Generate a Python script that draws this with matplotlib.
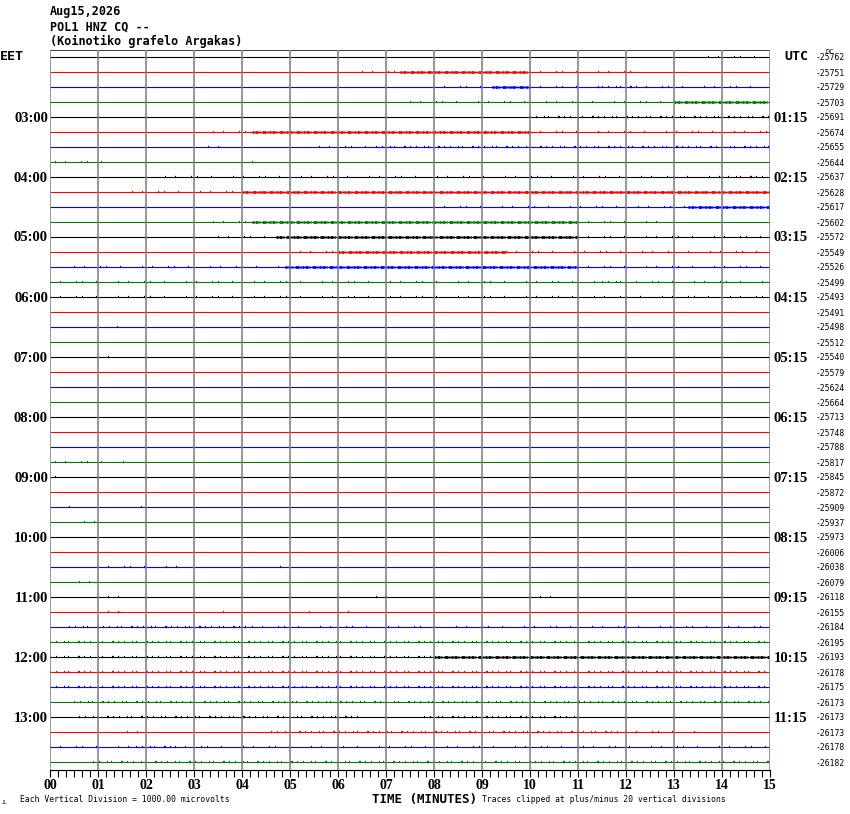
#!/usr/bin/env python3
"""Helicorder plot for POL1 HNZ CQ (15 minute lines)."""

import matplotlib
matplotlib.use("Agg")
import matplotlib.pyplot as plt
import numpy as np

W, H = 850, 814

# Header text
DATE_LABEL = "Aug15,2026"
STATION_LABEL = "POL1 HNZ CQ --"
SITE_LABEL = "(Koinotiko grafelo Argakas)"

# One line per 15 minutes, starting 02:00 EET (00:15 UTC)
N_ROWS = 48
LEFT_TIMES = ["03:00", "04:00", "05:00", "06:00", "07:00", "08:00",
              "09:00", "10:00", "11:00", "12:00", "13:00"]
RIGHT_TIMES = ["01:15", "02:15", "03:15", "04:15", "05:15", "06:15",
               "07:15", "08:15", "09:15", "10:15", "11:15"]
DC_OFFSETS = [-25762, -25751, -25729, -25703, -25691, -25674, -25655, -25644,
              -25637, -25628, -25617, -25602, -25572, -25549, -25526, -25499,
              -25493, -25491, -25498, -25512, -25540, -25579, -25624, -25664,
              -25713, -25748, -25788, -25817, -25845, -25872, -25909, -25937,
              -25973, -26006, -26038, -26079, -26118, -26155, -26184, -26195,
              -26193, -26178, -26175, -26173, -26173, -26173, -26178, -26182]
MINUTE_TICKS = list(range(0, 16))
MINUTE_LABELS = [f"{m:02d}" for m in MINUTE_TICKS]

# Noisy stretches per line: (start min, end min, activity 1-3)
BUSY = [
    [(13.7, 15.0, 1)],
    [(6.5, 7.3, 1), (7.3, 10.0, 3), (10.0, 12.2, 1)],
    [(8.0, 9.2, 1), (9.2, 10.0, 3), (10.0, 11.5, 1), (11.5, 12.2, 2), (12.2, 15.0, 1)],
    [(7.5, 13.0, 1), (13.0, 15.0, 3)],
    [(10.0, 15.0, 2)],
    [(3.4, 4.2, 1), (4.2, 10.0, 3), (10.0, 15.0, 1)],
    [(3.3, 3.7, 1), (5.6, 6.8, 1), (6.8, 15.0, 2)],
    [(0.1, 1.2, 1), (4.2, 4.4, 1)],
    [(2.4, 14.0, 1), (14.0, 15.0, 2)],
    [(1.7, 4.0, 1), (4.0, 15.0, 3)],
    [(8.0, 13.3, 1), (13.3, 15.0, 3)],
    [(3.4, 4.2, 1), (4.2, 11.0, 3), (11.0, 12.7, 1)],
    [(3.5, 4.7, 1), (4.7, 11.0, 3), (11.0, 15.0, 1)],
    [(5.2, 6.0, 1), (6.0, 9.5, 3), (9.5, 15.0, 1)],
    [(0.5, 4.9, 1), (4.9, 11.0, 3), (11.0, 15.0, 1)],
    [(0.0, 11.5, 1), (11.5, 12.0, 2), (12.0, 15.0, 1)],
    [(0.0, 15.0, 1)],
    [],
    [(1.4, 1.6, 1)],
    [],
    [(1.2, 1.4, 1)],
    [], [], [], [], [],
    [(14.0, 14.2, 1)],
    [(0.1, 1.7, 1)],
    [(0.1, 0.3, 1)],
    [],
    [(0.4, 0.6, 1), (1.9, 2.1, 1)],
    [(0.7, 1.0, 1)],
    [],
    [],
    [(1.0, 2.7, 1), (4.8, 5.0, 1)],
    [(0.6, 1.0, 1)],
    [(1.2, 1.6, 1), (6.8, 7.2, 1), (10.2, 10.6, 1)],
    [(1.2, 1.6, 1), (3.6, 3.8, 1), (5.4, 5.6, 1), (6.0, 6.4, 1)],
    [(0.4, 4.2, 2), (4.2, 15.0, 1)],
    [(0.0, 15.0, 2)],
    [(0.0, 8.0, 2), (8.0, 15.0, 3)],
    [(0.0, 15.0, 2)],
    [(0.0, 15.0, 2)],
    [(0.5, 15.0, 2)],
    [(0.6, 6.5, 2), (7.8, 11.0, 2)],
    [(1.6, 2.0, 1), (4.6, 12.0, 2), (12.0, 13.6, 1)],
    [(0.0, 1.8, 1), (1.8, 2.6, 2), (2.6, 15.0, 1)],
    [(0.9, 15.0, 2)],
]

TRACE_COLORS = ["#000000", "#ff0000", "#0000ff", "#007a00"]
GRID_COLOR = "#808080"
PX = 72.0 / 100.0  # one pixel in points at dpi 100

# look of each activity level: line width px and an uneven on/off dash pattern px
BUSY_STYLE = {
    1: (2.3, (1, 9, 1, 15, 1, 5, 1, 13, 1, 21)),
    2: (2.3, (1, 5, 1, 7, 1, 3, 1, 9, 2, 4)),
    3: (2.8, (2, 1, 3, 1, 1, 2, 4, 1, 1, 1)),
}

MONO = "DejaVu Sans Mono"
SERIF = "Liberation Serif"


def fx(x):
    return x / W


def fy(y):
    return 1 - y / H


def row_y(i):
    return 57 + 15 * i


plt.rcParams["lines.scale_dashes"] = False

fig = plt.figure(figsize=(W / 100, H / 100), dpi=100)
fig.patch.set_facecolor("white")

ax = fig.add_axes([fx(50), fy(770), fx(770) - fx(50), fy(50) - fy(770)])
ax.set_xlim(0, 15)
ax.set_ylim((770 - 57) / 15, (50 - 57) / 15)
for name, spine in ax.spines.items():
    spine.set_visible(name == "bottom")
ax.spines["bottom"].set_linewidth(1.2 * PX)
ax.set_yticks([])

for i in range(N_ROWS):
    color = TRACE_COLORS[i % 4]
    ax.plot([0, 15], [i, i], color=color, lw=1.1 * PX, solid_capstyle="butt", zorder=2)
    for start, end, level in BUSY[i]:
        lw, pattern = BUSY_STYLE[level]
        ax.plot([start, end], [i, i], color=color, lw=lw * PX,
                dashes=[p * PX for p in pattern], solid_capstyle="butt",
                dash_capstyle="butt", zorder=2)

ax.axhline((50 - 57) / 15, color="black", lw=1.5 * PX, zorder=3)
for m in MINUTE_TICKS:
    ax.axvline(m, color=GRID_COLOR, lw=1.6 * PX, zorder=4)

ax.set_xticks(MINUTE_TICKS)
ax.set_xticklabels(MINUTE_LABELS, fontfamily=SERIF, fontweight="bold", fontsize=10)
ax.set_xticks(np.arange(0, 15.01, 1 / 6), minor=True)
ax.tick_params(axis="x", which="both", direction="out", length=7 * PX,
               width=1.1 * PX, color="black", pad=1.5)

# header
header_kw = dict(fontfamily=MONO, fontweight="bold", fontsize=8.5, va="center", ha="left")
fig.text(fx(50), fy(12), DATE_LABEL, **header_kw)
fig.text(fx(50), fy(27), STATION_LABEL, **header_kw)
fig.text(fx(50), fy(41), SITE_LABEL, **header_kw)

fig.text(fx(0), fy(57), "EET", fontfamily=MONO, fontweight="bold", fontsize=9.5,
         va="center", ha="left")
fig.text(fx(784), fy(57), "UTC", fontfamily=MONO, fontweight="bold", fontsize=9.5,
         va="center", ha="left")
fig.text(fx(826), fy(52), "DC", fontfamily=MONO, fontsize=5, va="center", ha="left")

for k, (left, right) in enumerate(zip(LEFT_TIMES, RIGHT_TIMES), start=1):
    y = row_y(4 * k) + 1
    fig.text(fx(48), fy(y), left, fontfamily=SERIF, fontweight="bold",
             fontsize=10.5, va="center", ha="right")
    fig.text(fx(774), fy(y), right, fontfamily=SERIF, fontweight="bold",
             fontsize=10.5, va="center", ha="left")

for i, dc in enumerate(DC_OFFSETS):
    fig.text(fx(816), fy(row_y(i) + 1), str(dc), fontfamily=MONO, fontsize=5.8,
             va="center", ha="left")

# footer
fig.text(fx(425), fy(799), "TIME (MINUTES)", fontfamily=MONO, fontweight="bold",
         fontsize=9, va="center", ha="center")
fig.text(fx(20), fy(800), "Each Vertical Division = 1000.00 microvolts",
         fontfamily=MONO, fontsize=5.8, va="center", ha="left")
fig.text(fx(482), fy(800), "Traces clipped at plus/minus 20 vertical divisions",
         fontfamily=MONO, fontsize=5.8, va="center", ha="left")
fig.text(fx(2), fy(802), "JL", fontfamily=MONO, fontsize=3.5, va="center", ha="left")

fig.savefig("out.png", dpi=100, facecolor="white")
